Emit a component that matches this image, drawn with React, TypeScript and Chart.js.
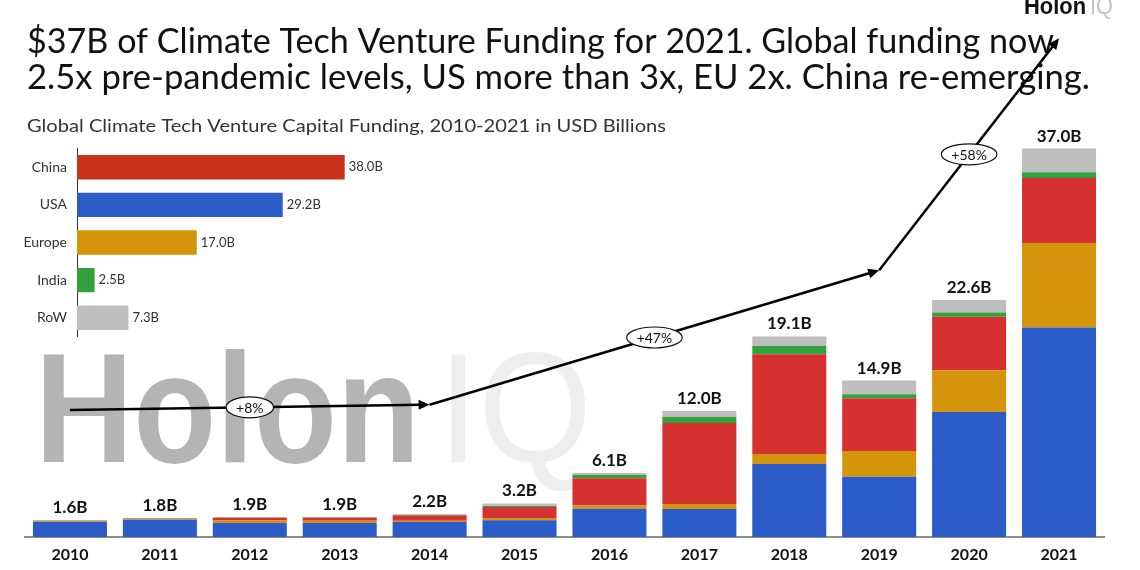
import React, { useEffect, useRef } from "react";
import { Chart, registerables } from "chart.js";

Chart.register(...registerables);

// ---------- data ----------
const years = ["2010", "2011", "2012", "2013", "2014", "2015", "2016", "2017", "2018", "2019", "2020", "2021"];
const usaValues = [1.45, 1.65, 1.33, 1.33, 1.43, 1.6, 2.7, 2.67, 6.95, 5.74, 11.9, 19.95];
const europeValues = [0.1, 0.08, 0.25, 0.22, 0.12, 0.2, 0.3, 0.48, 0.95, 2.45, 3.97, 8.04];
const chinaValues = [0.03, 0.05, 0.25, 0.28, 0.5, 1.05, 2.6, 7.7, 9.5, 5.02, 5.1, 6.19];
const indiaValues = [0.01, 0.01, 0.03, 0.03, 0.05, 0.1, 0.3, 0.57, 0.8, 0.38, 0.42, 0.57];
const rowValues = [0.01, 0.01, 0.04, 0.04, 0.1, 0.25, 0.2, 0.58, 0.9, 1.31, 1.18, 2.25];
const totalLabels = ["1.6B", "1.8B", "1.9B", "1.9B", "2.2B", "3.2B", "6.1B", "12.0B", "19.1B", "14.9B", "22.6B", "37.0B"];

const trendYears = ["2010", "2014", "2019", "2021"];
const trendValues = [12.1, 12.6, 25.4, 47.5];
const trendLabels = ["+8%", "+47%", "+58%"];

const regions = ["China", "USA", "Europe", "India", "RoW"];
const regionTotals = [38.0, 29.2, 17.0, 2.5, 7.3];

const titleLine1 = "$37B of Climate Tech Venture Funding for 2021. Global funding now";
const titleLine2 = "2.5x pre-pandemic levels, US more than 3x, EU 2x. China re-emerging.";
const subtitle = "Global Climate Tech Venture Capital Funding, 2010-2021 in USD Billions";

// ---------- colors ----------
const C_USA = "#2a5bc6";
const C_EU = "#d4940c";
const C_CN = "#d63131";
const C_IN = "#33a23d";
const C_ROW = "#bebebe";
const C_CN_INSET = "#c9331a";

const FONT = "Lato, 'Noto Sans', sans-serif";

function fitText(ctx: CanvasRenderingContext2D, text: string, x: number, y: number, width: number, font: string, color: string) {
  ctx.save();
  ctx.font = font;
  ctx.fillStyle = color;
  ctx.textAlign = "left";
  ctx.textBaseline = "alphabetic";
  const w = ctx.measureText(text).width;
  const s = width / w;
  ctx.translate(x, y);
  ctx.scale(s, 1);
  ctx.fillText(text, 0, 0);
  ctx.restore();
}

const backgroundPlugin = {
  id: "bgTexts",
  beforeDraw(chart: any) {
    const ctx: CanvasRenderingContext2D = chart.ctx;
    ctx.save();
    ctx.fillStyle = "#ffffff";
    ctx.fillRect(0, 0, chart.width, chart.height);
    ctx.restore();
    // titles
    fitText(ctx, titleLine1, 27, 53, 1027, `34px ${FONT}`, "#111111");
    fitText(ctx, titleLine2, 27, 89, 1063, `34px ${FONT}`, "#111111");
    fitText(ctx, subtitle, 27, 132, 639, `18px ${FONT}`, "#333333");
    // logo
    fitText(ctx, "Holon", 1024, 14, 62, `bold 24px 'Liberation Sans', Arial, sans-serif`, "#111111");
    fitText(ctx, "IQ", 1090, 14, 23, `24px 'Liberation Sans', Arial, sans-serif`, "#c4c4c4");
  },
  beforeDatasetsDraw(chart: any) {
    const ctx: CanvasRenderingContext2D = chart.ctx;
    // watermark
    fitText(ctx, "Holon", 35, 462, 385, `bold 156px 'Liberation Sans', Arial, sans-serif`, "#b4b4b4");
    fitText(ctx, "IQ", 438, 462, 154, `156px 'Liberation Sans', Arial, sans-serif`, "#eeeeee");
  },
};

const overlayPlugin = {
  id: "overlay",
  afterDatasetsDraw(chart: any) {
    const ctx: CanvasRenderingContext2D = chart.ctx;
    const xs = chart.scales.x;
    const ys = chart.scales.y;
    // totals
    ctx.save();
    ctx.font = `bold 17px ${FONT}`;
    ctx.fillStyle = "#111111";
    ctx.textAlign = "center";
    ctx.textBaseline = "alphabetic";
    years.forEach((_, i) => {
      const sum = usaValues[i] + europeValues[i] + chinaValues[i] + indiaValues[i] + rowValues[i];
      const x = xs.getPixelForValue(i);
      const y = ys.getPixelForValue(sum) - 7;
      ctx.fillText(totalLabels[i], x, y);
    });
    ctx.restore();

    // trend arrows
    const pts = trendYears.map((yr, i) => ({
      x: xs.getPixelForValue(years.indexOf(yr)),
      y: ys.getPixelForValue(trendValues[i]),
    }));
    ctx.save();
    ctx.strokeStyle = "#000000";
    ctx.fillStyle = "#000000";
    ctx.lineWidth = 2.5;
    ctx.lineCap = "butt";
    for (let i = 0; i < pts.length - 1; i++) {
      const a = pts[i];
      const b = pts[i + 1];
      const ang = Math.atan2(b.y - a.y, b.x - a.x);
      const headLen = 11;
      const headW = 5;
      const bx = b.x - Math.cos(ang) * headLen * 0.8;
      const by = b.y - Math.sin(ang) * headLen * 0.8;
      ctx.beginPath();
      ctx.moveTo(a.x, a.y);
      ctx.lineTo(bx, by);
      ctx.stroke();
      ctx.beginPath();
      ctx.moveTo(b.x, b.y);
      ctx.lineTo(b.x - Math.cos(ang) * headLen - Math.sin(ang) * headW, b.y - Math.sin(ang) * headLen + Math.cos(ang) * headW);
      ctx.lineTo(b.x - Math.cos(ang) * headLen + Math.sin(ang) * headW, b.y - Math.sin(ang) * headLen - Math.cos(ang) * headW);
      ctx.closePath();
      ctx.fill();
    }
    // labels in ellipses
    ctx.font = `14px ${FONT}`;
    ctx.textAlign = "center";
    ctx.textBaseline = "middle";
    for (let i = 0; i < trendLabels.length; i++) {
      const a = pts[i];
      const b = pts[i + 1];
      const mx = (a.x + b.x) / 2;
      const my = (a.y + b.y) / 2;
      const tw = ctx.measureText(trendLabels[i]).width;
      const rx = tw / 2 + 10;
      const ry = 10.5;
      ctx.beginPath();
      ctx.ellipse(mx, my, rx, ry, 0, 0, Math.PI * 2);
      ctx.fillStyle = "#ffffff";
      ctx.fill();
      ctx.lineWidth = 1.2;
      ctx.strokeStyle = "#111111";
      ctx.stroke();
      ctx.fillStyle = "#111111";
      ctx.fillText(trendLabels[i], mx, my + 1);
    }
    ctx.restore();
  },
};

const insetLabelPlugin = {
  id: "insetLabels",
  afterDatasetsDraw(chart: any) {
    const ctx: CanvasRenderingContext2D = chart.ctx;
    const meta = chart.getDatasetMeta(0);
    ctx.save();
    ctx.font = `13px ${FONT}`;
    ctx.fillStyle = "#333333";
    ctx.textAlign = "left";
    ctx.textBaseline = "middle";
    meta.data.forEach((el: any, i: number) => {
      ctx.fillText(`${regionTotals[i].toFixed(1)}B`, el.x + 4, el.y);
    });
    ctx.restore();
  },
};

export default function App() {
  const mainRef = useRef<HTMLCanvasElement | null>(null);
  const insetRef = useRef<HTMLCanvasElement | null>(null);

  useEffect(() => {
    if (!mainRef.current || !insetRef.current) return;
    const barCommon = { barPercentage: 0.823, categoryPercentage: 1.0, borderWidth: 0 };
    const main = new Chart(mainRef.current, {
      type: "bar",
      data: {
        labels: years,
        datasets: [
          { label: "USA", data: usaValues, backgroundColor: C_USA, ...barCommon },
          { label: "Europe", data: europeValues, backgroundColor: C_EU, ...barCommon },
          { label: "China", data: chinaValues, backgroundColor: C_CN, ...barCommon },
          { label: "India", data: indiaValues, backgroundColor: C_IN, ...barCommon },
          { label: "RoW", data: rowValues, backgroundColor: C_ROW, ...barCommon },
        ],
      },
      options: {
        animation: false,
        responsive: false,
        maintainAspectRatio: false,
        layout: { padding: { left: 25, right: 36, top: 117, bottom: 0 } },
        plugins: { legend: { display: false }, tooltip: { enabled: false }, title: { display: false } },
        scales: {
          x: {
            stacked: true,
            grid: { display: false, drawTicks: false },
            border: { display: true, color: "#8c8c8c", width: 2 },
            ticks: { color: "#111111", font: { family: FONT, weight: "bold", size: 16 }, padding: 8 },
            afterFit: (s: any) => {
              s.height = 33;
            },
          },
          y: { stacked: true, display: false, min: 0, max: 40 },
        },
      } as any,
      plugins: [backgroundPlugin, overlayPlugin],
    });

    const inset = new Chart(insetRef.current, {
      type: "bar",
      data: {
        labels: regions,
        datasets: [
          {
            data: regionTotals,
            backgroundColor: [C_CN_INSET, C_USA, C_EU, C_IN, C_ROW],
            barPercentage: 0.65,
            categoryPercentage: 1.0,
            borderWidth: 0,
          },
        ],
      },
      options: {
        indexAxis: "y",
        animation: false,
        responsive: false,
        maintainAspectRatio: false,
        layout: { padding: { left: 0, right: 26, top: 0, bottom: 0 } },
        plugins: { legend: { display: false }, tooltip: { enabled: false } },
        scales: {
          x: { display: false, min: 0, max: 45 },
          y: {
            grid: { display: false, drawTicks: false },
            border: { display: true, color: "#333333", width: 1 },
            ticks: { color: "#333333", font: { family: FONT, size: 14 }, padding: 10 },
            afterFit: (s: any) => {
              s.width = 77;
            },
          },
        },
      } as any,
      plugins: [insetLabelPlugin],
    });

    return () => {
      main.destroy();
      inset.destroy();
    };
  }, []);

  return (
    <div style={{ position: "absolute", left: 0, top: 0, width: 1140, height: 570, background: "#fff", overflow: "hidden" }}>
      <canvas ref={mainRef} width={1140} height={570} style={{ position: "absolute", left: 0, top: 0, width: 1140, height: 570 }} />
      <canvas ref={insetRef} width={420} height={225} style={{ position: "absolute", left: 0, top: 130, width: 420, height: 225 }} />
    </div>
  );
}
